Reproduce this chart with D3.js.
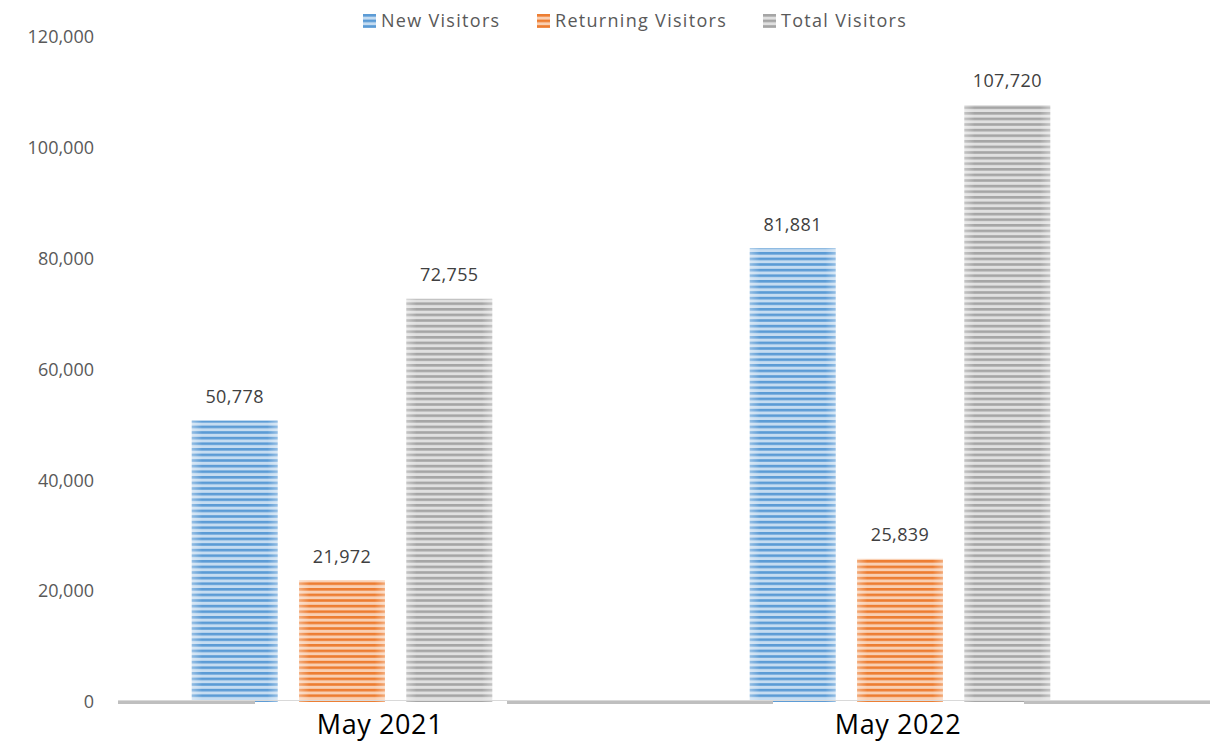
<!DOCTYPE html>
<html>
<head>
<meta charset="utf-8">
<script src="https://cdn.jsdelivr.net/npm/d3@7"></script>
<style>
  body { margin: 0; background: #fff; }
  svg { display: block; font-family: "Open Sans", "Liberation Sans", sans-serif; }
</style>
</head>
<body>
<div id="chart"></div>
<script>
// Visitors chart
const categories = ['May 2021', 'May 2022'];
const seriesNames = ['New Visitors', 'Returning Visitors', 'Total Visitors'];
const newVisitors = [50778, 81881];
const returningVisitors = [21972, 25839];
const totalVisitors = [72755, 107720];
const yTicks = [0, 20000, 40000, 60000, 80000, 100000, 120000];

const seriesValues = [newVisitors, returningVisitors, totalVisitors];
const colors = [
  { dark: '#5b9bd5', light: '#c5dcf1' },
  { dark: '#ed7d31', light: '#f9cfb2' },
  { dark: '#a5a5a5', light: '#e0e0e0' }
];

const width = 1210, height = 746;
const svg = d3.select('#chart').append('svg')
  .attr('width', width)
  .attr('height', height);

// Striped fills
const defs = svg.append('defs');
colors.forEach((c, i) => {
  const p = defs.append('pattern')
    .attr('id', 'stripe' + i)
    .attr('patternUnits', 'userSpaceOnUse')
    .attr('width', 8).attr('height', 5.6);
  p.append('rect').attr('width', 8).attr('height', 5.6).attr('fill', c.light);
  p.append('rect').attr('y', 0).attr('width', 8).attr('height', 2.6).attr('fill', c.dark);
});

// soft light edges on the bars
const sheen = defs.append('linearGradient')
  .attr('id', 'sheen')
  .attr('x1', 0).attr('x2', 1).attr('y1', 0).attr('y2', 0);
sheen.append('stop').attr('offset', 0).attr('stop-color', '#fff').attr('stop-opacity', 0.35);
sheen.append('stop').attr('offset', 0.12).attr('stop-color', '#fff').attr('stop-opacity', 0);
sheen.append('stop').attr('offset', 0.88).attr('stop-color', '#fff').attr('stop-opacity', 0);
sheen.append('stop').attr('offset', 1).attr('stop-color', '#fff').attr('stop-opacity', 0.35);

const x = d3.scaleBand()
  .domain(categories)
  .range([63, 1179])
  .paddingInner(0)
  .paddingOuter(0);

const x1 = d3.scaleBand()
  .domain(seriesNames)
  .range([0, x.bandwidth()])
  .paddingInner(0.2)
  .paddingOuter(1.2);

const y = d3.scaleLinear()
  .domain([0, 120000])
  .range([702, 37]);

// Y axis labels
svg.append('g').selectAll('text')
  .data(yTicks)
  .join('text')
  .attr('x', 94)
  .attr('y', d => y(d))
  .attr('dy', '0.35em')
  .attr('text-anchor', 'end')
  .attr('fill', '#595959')
  .attr('font-size', 18)
  .text(d => d3.format(',')(d));

// Bars
const groups = svg.append('g').selectAll('g')
  .data(categories)
  .join('g')
  .attr('transform', d => `translate(${x(d)},0)`);

groups.each(function (cat, ci) {
  const g = d3.select(this);
  seriesNames.forEach((s, si) => {
    const v = seriesValues[si][ci];
    g.append('rect')
      .attr('x', x1(s))
      .attr('y', y(v))
      .attr('width', x1.bandwidth())
      .attr('height', y(0) - y(v))
      .attr('fill', `url(#stripe${si})`);
    g.append('rect')
      .attr('x', x1(s))
      .attr('y', y(v))
      .attr('width', x1.bandwidth())
      .attr('height', y(0) - y(v))
      .attr('fill', 'url(#sheen)');
    g.append('text')
      .attr('x', x1(s) + x1.bandwidth() / 2)
      .attr('y', y(v) - 24)
      .attr('dy', '0.35em')
      .attr('text-anchor', 'middle')
      .attr('fill', '#404040')
      .attr('font-size', 18)
      .attr('letter-spacing', 0.4)
      .text(d3.format(',')(v));
  });
});

// Baseline
svg.append('line')
  .attr('x1', 118).attr('x2', 1210)
  .attr('y1', 700.5).attr('y2', 700.5)
  .attr('stroke', '#d9d9d9').attr('stroke-width', 1);
[[118, 255], [507, 773], [1024, 1210]].forEach(([a, b]) => {
  svg.append('rect')
    .attr('x', a).attr('y', 701)
    .attr('width', b - a).attr('height', 3)
    .attr('fill', '#bfbfbf');
});

// Category labels
const catLabelDx = [38, -2];
svg.append('g').selectAll('text')
  .data(categories)
  .join('text')
  .attr('x', (d, i) => x(d) + x.bandwidth() / 2 + catLabelDx[i])
  .attr('y', 734)
  .attr('text-anchor', 'middle')
  .attr('fill', '#000')
  .attr('font-size', 27)
  .attr('letter-spacing', 0.6)
  .text(d => d);

// Legend
const legendX = [363, 537, 763];
const legend = svg.append('g').selectAll('g')
  .data(seriesNames)
  .join('g')
  .attr('transform', (d, i) => `translate(${legendX[i]},14)`);
legend.append('rect')
  .attr('width', 13).attr('height', 14)
  .attr('fill', (d, i) => `url(#stripe${i})`);
legend.append('text')
  .attr('x', 18).attr('y', 7)
  .attr('dy', '0.35em')
  .attr('fill', '#595959')
  .attr('font-size', 18)
  .attr('letter-spacing', 1.3)
  .text(d => d);
</script>
</body>
</html>
